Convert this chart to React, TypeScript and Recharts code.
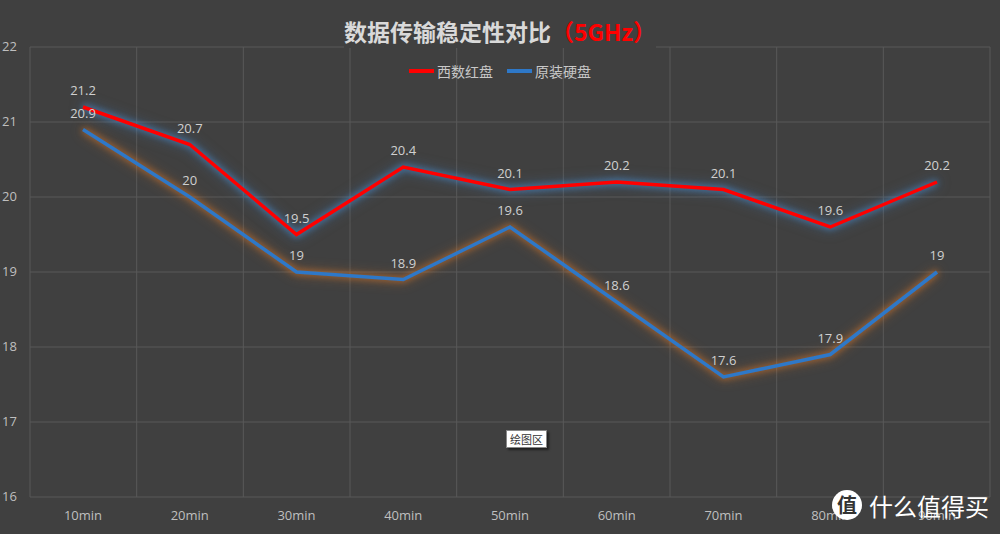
import React from "react";
import {
  LineChart,
  Line,
  XAxis,
  YAxis,
  CartesianGrid,
  LabelList,
} from "recharts";

const categories = ["10min", "20min", "30min", "40min", "50min", "60min", "70min", "80min", "90min"];
const wdRed = [21.2, 20.7, 19.5, 20.4, 20.1, 20.2, 20.1, 19.6, 20.2];
const original = [20.9, 20, 19, 18.9, 19.6, 18.6, 17.6, 17.9, 19];
const yTicks = [16, 17, 18, 19, 20, 21, 22];

const seriesNames = { red: "西数红盘", blue: "原装硬盘" };
const RED = "#ff0000";
const BLUE = "#2e78c8";

const data = categories.map((c, i) => ({ name: c, red: wdRed[i], blue: original[i] }));

const FONT = "'Open Sans', 'Noto Sans CJK SC', sans-serif";

const YTick = (props: any) => {
  const { y, payload } = props;
  return (
    <text x={2} y={y} dy={4} fill="#bfbfbf" fontSize={13} fontFamily={FONT} textAnchor="start">
      {payload.value}
    </text>
  );
};

// vertical grid lines on category boundaries
const boundaryGen = ({ offset }: any) => {
  const n = categories.length;
  const out: number[] = [];
  for (let i = 0; i <= n; i++) out.push(offset.left + (offset.width * i) / n);
  return out;
};

export default function App() {
  return (
    <div style={{ position: "absolute", left: 0, top: 0, width: 1000, height: 534, background: "#404040", overflow: "hidden" }}>
      <style>{`
        path.recharts-line-curve[stroke="${RED}"] { filter: drop-shadow(0 0 3px rgba(70,140,210,0.9)) drop-shadow(0 0 6px rgba(70,140,210,0.5)); }
        path.recharts-line-curve[stroke="${BLUE}"] { filter: drop-shadow(0 0 3px rgba(220,120,40,0.8)) drop-shadow(0 0 6px rgba(220,120,40,0.45)); }
      `}</style>
      <LineChart width={1000} height={534} data={data} margin={{ top: 47, right: 10, bottom: 0, left: 0 }}>
        <CartesianGrid
          stroke="#585858"
          strokeWidth={1}
          xAxisId="cat"
          yAxisId="y"
          verticalCoordinatesGenerator={boundaryGen}
        />
        <XAxis
          dataKey="name"
          xAxisId="cat"
          axisLine={false}
          tickLine={false}
          height={37}
          interval={0}
          padding={{ left: 53, right: 53 }}
          tick={{ fill: "#bfbfbf", fontSize: 13, fontFamily: FONT, dy: 6 }}
        />
        <YAxis
          yAxisId="y"
          domain={[16, 22]}
          ticks={yTicks}
          width={30}
          axisLine={false}
          tickLine={false}
          tick={<YTick />}
        />
        <Line
          xAxisId="cat"
          yAxisId="y"
          type="linear"
          dataKey="blue"
          name={seriesNames.blue}
          stroke={BLUE}
          strokeWidth={3.5}
          dot={false}
          isAnimationActive={false}
        >
          <LabelList dataKey="blue" position="top" offset={12} fill="#d0d0d0" fontSize={13} fontFamily={FONT} />
        </Line>
        <Line
          xAxisId="cat"
          yAxisId="y"
          type="linear"
          dataKey="red"
          name={seriesNames.red}
          stroke={RED}
          strokeWidth={3.5}
          dot={false}
          isAnimationActive={false}
        >
          <LabelList dataKey="red" position="top" offset={12} fill="#d0d0d0" fontSize={13} fontFamily={FONT} />
        </Line>
      </LineChart>
      <div
        style={{
          position: "absolute",
          top: 14,
          left: 0,
          width: 1000,
          textAlign: "center",
          fontFamily: "'Noto Sans CJK SC', sans-serif",
          fontWeight: 700,
          fontSize: 23,
          color: "#d9d9d9",
          lineHeight: "34px",
        }}
      >
        <span style={{ background: "#404040" }}>
          数据传输稳定性对比<span style={{ color: "#ff0000" }}>（5GHz）</span>
        </span>
      </div>
      <div
        style={{
          position: "absolute",
          top: 61,
          left: 0,
          width: 1000,
          display: "flex",
          justifyContent: "center",
          fontFamily: "'Noto Sans CJK SC', sans-serif",
          fontSize: 14,
          lineHeight: "20px",
          color: "#c8c8c8",
          whiteSpace: "nowrap",
        }}
      >
        <div style={{ display: "flex", alignItems: "center", marginRight: 14 }}>
          <span style={{ display: "inline-block", width: 25, height: 4, background: RED, marginRight: 3 }} />
          {seriesNames.red}
        </div>
        <div style={{ display: "flex", alignItems: "center" }}>
          <span style={{ display: "inline-block", width: 25, height: 4, background: BLUE, marginRight: 3 }} />
          {seriesNames.blue}
        </div>
      </div>
      <div
        style={{
          position: "absolute",
          left: 506,
          top: 430,
          padding: "0 3px",
          height: 16,
          lineHeight: "16px",
          background: "#ffffff",
          border: "1px solid #888",
          boxShadow: "2px 2px 2px rgba(0,0,0,0.5)",
          fontFamily: "'Noto Sans CJK SC', sans-serif",
          fontSize: 11,
          color: "#333",
          whiteSpace: "nowrap",
        }}
      >
        绘图区
      </div>
      <div
        style={{
          position: "absolute",
          left: 832,
          top: 490,
          width: 30,
          height: 30,
          borderRadius: 15,
          background: "#ffffff",
          color: "#333",
          fontFamily: "'Noto Sans CJK SC', sans-serif",
          fontSize: 20,
          fontWeight: 700,
          lineHeight: "30px",
          textAlign: "center",
        }}
      >
        值
      </div>
      <div
        style={{
          position: "absolute",
          left: 869,
          top: 490,
          height: 32,
          lineHeight: "32px",
          whiteSpace: "nowrap",
          fontFamily: "'Noto Sans CJK SC', sans-serif",
          fontSize: 24,
          color: "#ffffff",
        }}
      >
        什么值得买
      </div>
    </div>
  );
}
